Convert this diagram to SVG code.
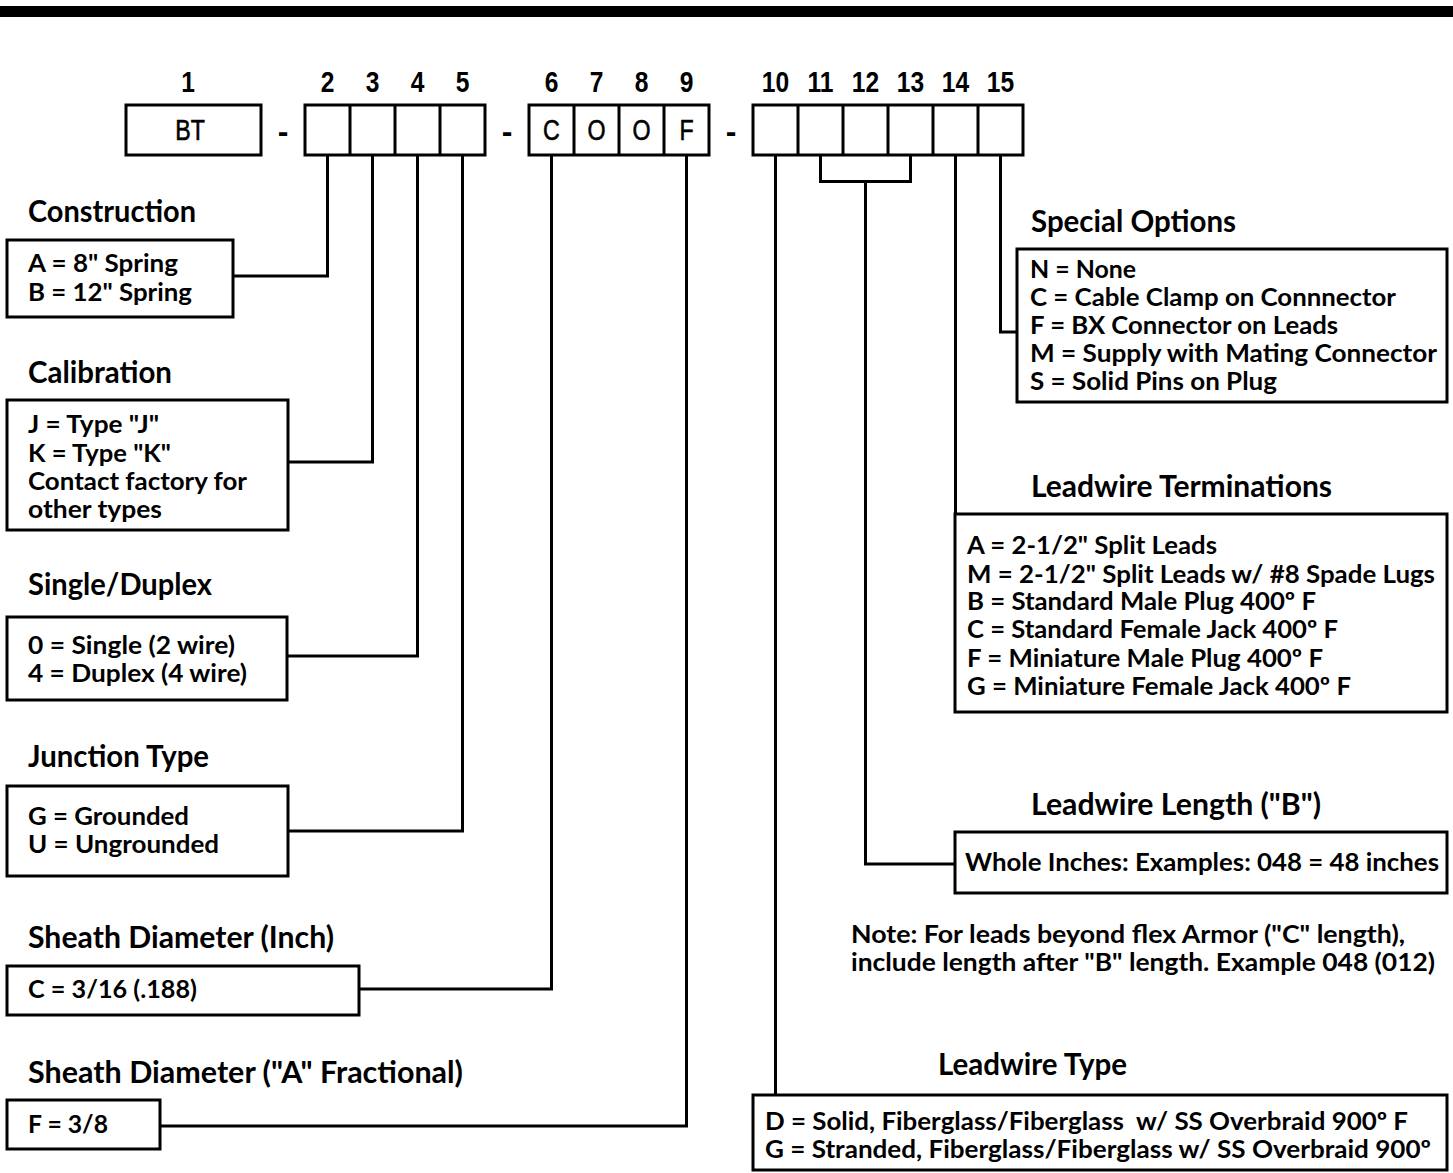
<svg xmlns="http://www.w3.org/2000/svg" width="1453" height="1173" viewBox="0 0 1453 1173">
<style>
.bx{fill:#fff;stroke:#000;stroke-width:3}
.ln{fill:none;stroke:#000;stroke-width:3}
.num{font-family:"Liberation Sans",Arial,sans-serif;font-weight:bold;font-size:30px;text-anchor:middle;fill:#000}
.code{font-family:"Liberation Sans",Arial,sans-serif;font-size:29px;text-anchor:middle;fill:#000;stroke:#000;stroke-width:0.6}
.dash{font-family:"Liberation Sans",Arial,sans-serif;font-weight:bold;font-size:32px;text-anchor:middle;fill:#000}
.t{font-family:Lato,"Open Sans",sans-serif;font-weight:bold;font-size:30px;fill:#000}
.b{font-family:Lato,"Open Sans",sans-serif;font-weight:bold;font-size:24px;fill:#000}
</style>
<rect x="0" y="6" width="1453" height="11" fill="#000"/>

<g id="code-row">
<text class="num" transform="translate(188,92) scale(0.82,1)">1</text>
<text class="num" transform="translate(327.5,92) scale(0.82,1)">2</text>
<text class="num" transform="translate(372.5,92) scale(0.82,1)">3</text>
<text class="num" transform="translate(417.5,92) scale(0.82,1)">4</text>
<text class="num" transform="translate(462.5,92) scale(0.82,1)">5</text>
<text class="num" transform="translate(551.5,92) scale(0.82,1)">6</text>
<text class="num" transform="translate(596.5,92) scale(0.82,1)">7</text>
<text class="num" transform="translate(641.5,92) scale(0.82,1)">8</text>
<text class="num" transform="translate(686.5,92) scale(0.82,1)">9</text>
<text class="num" transform="translate(775.5,92) scale(0.82,1)">10</text>
<text class="num" transform="translate(820.5,92) scale(0.82,1)">11</text>
<text class="num" transform="translate(865.5,92) scale(0.82,1)">12</text>
<text class="num" transform="translate(910.5,92) scale(0.82,1)">13</text>
<text class="num" transform="translate(955.5,92) scale(0.82,1)">14</text>
<text class="num" transform="translate(1000.5,92) scale(0.82,1)">15</text>

<rect class="bx" x="126" y="105" width="135" height="50"/>
<text class="code" transform="translate(190,140) scale(0.8,1)">BT</text>
<text class="dash" x="283" y="142">-</text>

<g id="cells-2-5">
<rect class="bx" x="305" y="105" width="180" height="50"/>
<path class="ln" d="M350 105V155M395 105V155M440 105V155"/>
</g>
<text class="dash" x="507" y="142">-</text>

<g id="cells-6-9">
<rect class="bx" x="529" y="105" width="180" height="50"/>
<path class="ln" d="M574 105V155M619 105V155M664 105V155"/>
<text class="code" transform="translate(551.5,140) scale(0.8,1)">C</text>
<text class="code" transform="translate(596.5,140) scale(0.8,1)">O</text>
<text class="code" transform="translate(641.5,140) scale(0.8,1)">O</text>
<text class="code" transform="translate(686.5,140) scale(0.8,1)">F</text>
</g>
<text class="dash" x="731" y="142">-</text>

<g id="cells-10-15">
<rect class="bx" x="753" y="105" width="270" height="50"/>
<path class="ln" d="M798 105V155M843 105V155M888 105V155M933 105V155M978 105V155"/>
</g>
</g>

<g id="connectors">
<path class="ln" d="M327.5 155V276H233"/>
<path class="ln" d="M372.5 155V462H288"/>
<path class="ln" d="M417.5 155V656H287"/>
<path class="ln" d="M462.5 155V831H288"/>
<path class="ln" d="M551.5 155V989H359"/>
<path class="ln" d="M686.5 155V1126H160"/>
<path class="ln" d="M775.5 155V1095"/>
<path class="ln" d="M820.5 155V181.5H910.5V155"/>
<path class="ln" d="M865.5 181.5V864H955"/>
<path class="ln" d="M955.5 155V514"/>
<path class="ln" d="M1000.5 155V332H1017"/>
</g>

<g id="construction">
<text class="t" x="28" y="222" textLength="168" lengthAdjust="spacingAndGlyphs">Construction</text>
<rect class="bx" x="7" y="240" width="226" height="77"/>
<text class="b" x="28" y="272" textLength="150" lengthAdjust="spacingAndGlyphs">A = 8" Spring</text>
<text class="b" x="28" y="301" textLength="164" lengthAdjust="spacingAndGlyphs">B = 12" Spring</text>
</g>

<g id="calibration">
<text class="t" x="28" y="383" textLength="144" lengthAdjust="spacingAndGlyphs">Calibration</text>
<rect class="bx" x="7" y="400" width="281" height="130"/>
<text class="b" x="28" y="433" textLength="131" lengthAdjust="spacingAndGlyphs">J = Type "J"</text>
<text class="b" x="28" y="462" textLength="143" lengthAdjust="spacingAndGlyphs">K = Type "K"</text>
<text class="b" x="28" y="490" textLength="219" lengthAdjust="spacingAndGlyphs">Contact factory for</text>
<text class="b" x="28" y="518" textLength="134" lengthAdjust="spacingAndGlyphs">other types</text>
</g>

<g id="single-duplex">
<text class="t" x="28" y="595" textLength="184" lengthAdjust="spacingAndGlyphs">Single/Duplex</text>
<rect class="bx" x="7" y="617" width="280" height="83"/>
<text class="b" x="28" y="654" textLength="207" lengthAdjust="spacingAndGlyphs">0 = Single (2 wire)</text>
<text class="b" x="28" y="682" textLength="219" lengthAdjust="spacingAndGlyphs">4 = Duplex (4 wire)</text>
</g>

<g id="junction-type">
<text class="t" x="28" y="767" textLength="181" lengthAdjust="spacingAndGlyphs">Junction Type</text>
<rect class="bx" x="7" y="786" width="281" height="90"/>
<text class="b" x="28" y="825" textLength="161" lengthAdjust="spacingAndGlyphs">G = Grounded</text>
<text class="b" x="28" y="853" textLength="191" lengthAdjust="spacingAndGlyphs">U = Ungrounded</text>
</g>

<g id="sheath-inch">
<text class="t" x="28" y="948" textLength="306" lengthAdjust="spacingAndGlyphs">Sheath Diameter (Inch)</text>
<rect class="bx" x="7" y="966" width="352" height="49"/>
<text class="b" x="28" y="998" textLength="169" lengthAdjust="spacingAndGlyphs">C = 3/16 (.188)</text>
</g>

<g id="sheath-fractional">
<text class="t" x="28" y="1083" textLength="435" lengthAdjust="spacingAndGlyphs">Sheath Diameter ("A" Fractional)</text>
<rect class="bx" x="7" y="1100" width="153" height="49"/>
<text class="b" x="28" y="1133" textLength="80" lengthAdjust="spacingAndGlyphs">F = 3/8</text>
</g>

<g id="special-options">
<text class="t" x="1031" y="232" textLength="205" lengthAdjust="spacingAndGlyphs">Special Options</text>
<rect class="bx" x="1017" y="249" width="430" height="153"/>
<text class="b" x="1030" y="278" textLength="106" lengthAdjust="spacingAndGlyphs">N = None</text>
<text class="b" x="1030" y="306" textLength="366" lengthAdjust="spacingAndGlyphs">C = Cable Clamp on Connnector</text>
<text class="b" x="1030" y="334" textLength="308" lengthAdjust="spacingAndGlyphs">F = BX Connector on Leads</text>
<text class="b" x="1030" y="362" textLength="407" lengthAdjust="spacingAndGlyphs">M = Supply with Mating Connector</text>
<text class="b" x="1030" y="390" textLength="247" lengthAdjust="spacingAndGlyphs">S = Solid Pins on Plug</text>
</g>

<g id="leadwire-terminations">
<text class="t" x="1031" y="497" textLength="301" lengthAdjust="spacingAndGlyphs">Leadwire Terminations</text>
<rect class="bx" x="955" y="514" width="492" height="198"/>
<text class="b" x="967" y="554" textLength="250" lengthAdjust="spacingAndGlyphs">A = 2-1/2" Split Leads</text>
<text class="b" x="967" y="583" textLength="468" lengthAdjust="spacingAndGlyphs">M = 2-1/2" Split Leads w/ #8 Spade Lugs</text>
<text class="b" x="967" y="610" textLength="349" lengthAdjust="spacingAndGlyphs">B = Standard Male Plug 400º F</text>
<text class="b" x="967" y="638" textLength="371" lengthAdjust="spacingAndGlyphs">C = Standard Female Jack 400º F</text>
<text class="b" x="967" y="667" textLength="356" lengthAdjust="spacingAndGlyphs">F = Miniature Male Plug 400º F</text>
<text class="b" x="967" y="695" textLength="384" lengthAdjust="spacingAndGlyphs">G = Miniature Female Jack 400º F</text>
</g>

<g id="leadwire-length">
<text class="t" x="1031" y="815" textLength="290" lengthAdjust="spacingAndGlyphs">Leadwire Length ("B")</text>
<rect class="bx" x="955" y="832" width="492" height="61"/>
<text class="b" x="965" y="871" textLength="474" lengthAdjust="spacingAndGlyphs">Whole Inches: Examples: 048 = 48 inches</text>
</g>

<g id="note">
<text class="b" x="851" y="943" textLength="554" lengthAdjust="spacingAndGlyphs">Note: For leads beyond flex Armor ("C" length),</text>
<text class="b" x="851" y="971" textLength="584" lengthAdjust="spacingAndGlyphs">include length after "B" length. Example 048 (012)</text>
</g>

<g id="leadwire-type">
<text class="t" x="938" y="1075" textLength="189" lengthAdjust="spacingAndGlyphs">Leadwire Type</text>
<rect class="bx" x="753" y="1095" width="694" height="75"/>
<text class="b" x="765" y="1130" textLength="643" lengthAdjust="spacingAndGlyphs" xml:space="preserve">D = Solid, Fiberglass/Fiberglass  w/ SS Overbraid 900º F</text>
<text class="b" x="765" y="1158" textLength="666" lengthAdjust="spacingAndGlyphs">G = Stranded, Fiberglass/Fiberglass w/ SS Overbraid 900º</text>
</g>
</svg>
